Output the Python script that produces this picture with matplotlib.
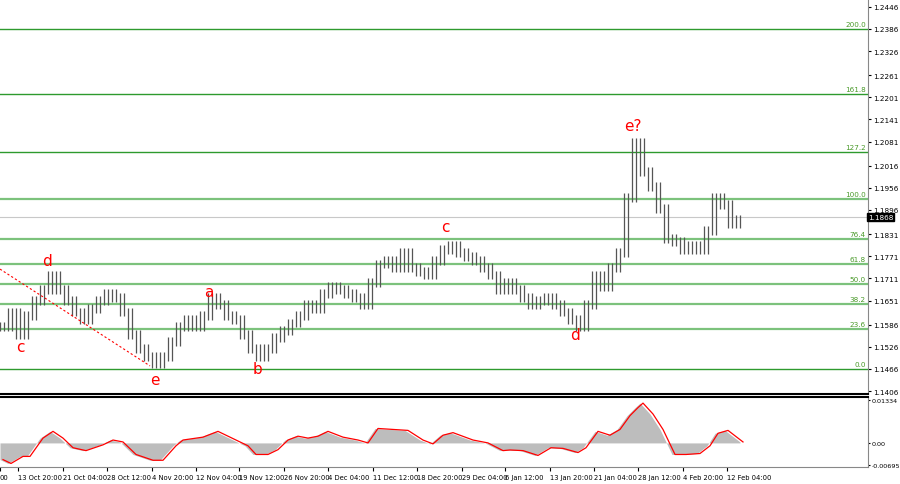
import numpy as np
import matplotlib.pyplot as plt

# price closes, one per bar (bars every 8 px of chart width)
bar_x = list(range(0, 744, 8))
closes = [1.158, 1.162, 1.156, 1.161, 1.165, 1.168, 1.172, 1.168, 1.165, 1.162,
          1.160, 1.163, 1.165, 1.167, 1.166, 1.162, 1.156, 1.152, 1.150, 1.148,
          1.150, 1.154, 1.158, 1.160, 1.158, 1.161, 1.166, 1.164, 1.161, 1.160,
          1.156, 1.152, 1.150, 1.152, 1.155, 1.157, 1.159, 1.161, 1.164, 1.163,
          1.167, 1.169, 1.168, 1.167, 1.166, 1.164, 1.170, 1.175, 1.176, 1.174,
          1.178, 1.174, 1.173, 1.172, 1.176, 1.179, 1.180, 1.178, 1.177, 1.176,
          1.174, 1.172, 1.168, 1.170, 1.168, 1.166, 1.164, 1.165, 1.166, 1.164,
          1.162, 1.160, 1.158, 1.164, 1.172, 1.169, 1.174, 1.178, 1.193, 1.208,
          1.200, 1.196, 1.190, 1.182, 1.181, 1.179, 1.180, 1.179, 1.184, 1.193,
          1.191, 1.186, 1.187]
bar_x = bar_x[:len(closes)]

fib_levels = [1.1466, 1.1574, 1.1642, 1.1696, 1.1750, 1.1818, 1.1926, 1.2053, 1.2210, 1.2386]
fib_labels = ["0.0", "23.6", "38.2", "50.0", "61.8", "76.4", "100.0", "127.2", "161.8", "200.0"]
price_ticks = [1.2446, 1.2386, 1.2326, 1.2261, 1.2201, 1.2141, 1.2081, 1.2016, 1.1956,
               1.1896, 1.1831, 1.1771, 1.1711, 1.1651, 1.1586, 1.1526, 1.1466, 1.1406]
last_price = 1.1868

wave_labels = ["c", "d", "e", "a", "b", "c", "d", "e?"]
wave_x = [20, 47, 155, 209, 258, 445, 575, 633]
wave_y = [1.1526, 1.1760, 1.1436, 1.1675, 1.1466, 1.1850, 1.1560, 1.2125]

osc_x = [0, 8, 20, 27, 40, 50, 60, 70, 83, 100, 110, 120, 133, 150, 160, 173, 180, 200,
         215, 233, 245, 253, 265, 275, 285, 295, 305, 315, 325, 340, 355, 365, 375, 390,
         405, 420, 430, 440, 450, 470, 485, 500, 507, 520, 535, 548, 560, 575, 583, 595,
         607, 617, 627, 635, 640, 650, 660, 672, 683, 697, 707, 715, 725, 740]
osc_vals = [-0.0052, -0.0064, -0.0042, -0.0042, 0.0015, 0.0036, 0.0015, -0.0015, -0.0024,
            -0.0006, 0.0009, 0.0003, -0.0036, -0.0054, -0.0054, -0.0009, 0.0009, 0.0018,
            0.0036, 0.0009, -0.0009, -0.0036, -0.0036, -0.0021, 0.0009, 0.0021, 0.0015,
            0.0021, 0.0036, 0.0018, 0.0009, 0.0, 0.0045, 0.0042, 0.0039, 0.0009, -0.0003,
            0.0024, 0.0032, 0.0009, 0.0, -0.0024, -0.0022, -0.0024, -0.0039, -0.0015,
            -0.0017, -0.0030, -0.0015, 0.0036, 0.0024, 0.0042, 0.0085, 0.0110, 0.0124,
            0.0090, 0.0042, -0.0036, -0.0036, -0.0033, -0.0009, 0.0030, 0.0039, 0.0003]

xtick_pos = [0, 18, 63, 107, 152, 196, 239, 284, 328, 373, 417, 462, 505, 550, 594, 638, 683, 727]
xtick_labels = ["00", "13 Oct 20:00", "21 Oct 04:00", "28 Oct 12:00", "4 Nov 20:00",
                "12 Nov 04:00", "19 Nov 12:00", "26 Nov 20:00", "4 Dec 04:00",
                "11 Dec 12:00", "18 Dec 20:00", "29 Dec 04:00", "6 Jan 12:00",
                "13 Jan 20:00", "21 Jan 04:00", "28 Jan 12:00", "4 Feb 20:00", "12 Feb 04:00"]

W, H = 900, 485
fig = plt.figure(figsize=(9, 4.85), dpi=100)
ax = fig.add_axes([0, 1 - 395 / H, 868 / W, 395 / H])
ax2 = fig.add_axes([0, 1 - 468 / H, 868 / W, 70 / H])

xmax = 868
fs = 5.2
# fib levels
for lv, lb in zip(fib_levels, fib_labels):
    strong = lb in ("0.0", "127.2", "161.8", "200.0")
    ax.axhline(lv, color="#2e9a2e" if strong else "#7cc27c", lw=1.0 if strong else 1.6, zorder=1)
    ax.text(xmax - 2, lv + 0.0004, lb, color="#4a9a2a", fontsize=fs, ha="right", va="bottom")
ax.axhline(last_price + 0.0009, color="#c8c8c8", lw=0.8, zorder=1)

# bars
prev = closes[0]
for x, c in zip(bar_x, closes):
    lo, hi = min(prev, c) - 0.0012, max(prev, c) + 0.0012
    ax.vlines([x, x + 4], lo, hi, color="#555555", lw=0.9, zorder=2)
    prev = c

ax.plot([0, 150], [1.1736, 1.1474], color="red", ls=(0, (2, 2)), lw=0.8)
for t, x, y in zip(wave_labels, wave_x, wave_y):
    ax.text(x, y, t, color="red", fontsize=11, ha="center", va="center")

ax.set_xlim(0, xmax)
ax.set_ylim(1.1398, 1.2467)
ax.yaxis.tick_right()
ax.set_yticks(price_ticks)
ax.set_yticklabels([f"{v:.4f}" for v in price_ticks], fontsize=fs)
ax.tick_params(axis="y", length=2, pad=1.5)
ax.set_xticks([])
ax.text(1.0, last_price + 0.0009, f"{last_price:.4f}", transform=ax.get_yaxis_transform(),
        fontsize=fs, color="white", va="center", ha="left",
        bbox=dict(boxstyle="square,pad=0.15", fc="black", ec="black"))
for s in ["top", "left"]:
    ax.spines[s].set_visible(False)
ax.spines["bottom"].set_linewidth(1.5)
ax.spines["right"].set_color("#888888")

# oscillator
ox = np.array(osc_x)
ov = np.array(osc_vals)
ax2.fill_between(ox, 0, ov, color="#bdbdbd", lw=0)
ax2.plot(ox + 3, ov, color="red", lw=0.9)
ax2.set_xlim(0, xmax)
ax2.set_ylim(-0.0075, 0.0143)
ax2.yaxis.tick_right()
ax2.set_yticks([0.01334, 0.0, -0.00695])
ax2.set_yticklabels(["0.01334", "0.00", "-0.00695"], fontsize=4.6)
ax2.tick_params(axis="y", length=1.5, pad=1)
ax2.set_xticks(xtick_pos)
ax2.set_xticklabels(xtick_labels, fontsize=4.9, ha="left")
ax2.tick_params(axis="x", length=3, pad=2)
ax2.spines["left"].set_visible(False)
ax2.spines["top"].set_linewidth(1.5)
for s in ["right", "bottom"]:
    ax2.spines[s].set_color("#888888")

fig.savefig("out.png", dpi=100)
